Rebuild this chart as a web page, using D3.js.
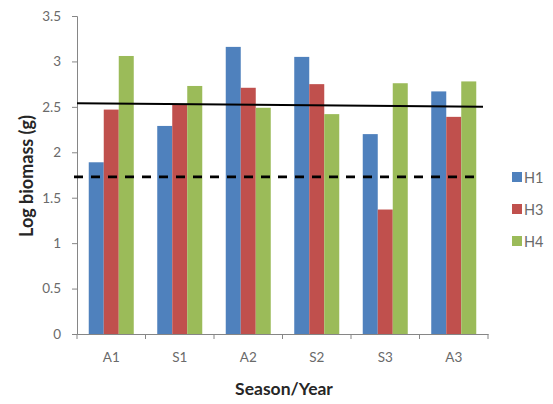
<!DOCTYPE html>
<html><head><meta charset="utf-8">
<script src="https://cdn.jsdelivr.net/npm/d3@7"></script>
<style>body{margin:0;background:#fff}svg{display:block}text{font-family:Lato,"Open Sans",sans-serif}</style>
</head><body><svg id="c" width="553" height="404"></svg>
<script>
const categories = ["A1","S1","A2","S2","S3","A3"];
const seriesNames = ["H1","H3","H4"];
const H1 = [1.89, 2.29, 3.16, 3.05, 2.20, 2.67];
const H3 = [2.47, 2.53, 2.71, 2.75, 1.37, 2.39];
const H4 = [3.06, 2.73, 2.49, 2.42, 2.76, 2.78];
const yTicks = [0, 0.5, 1, 1.5, 2, 2.5, 3, 3.5];
const solidRef = [2.54, 2.50];
const dashedRef = [1.73, 1.73];
const colors = ["#4F81BD","#C0504D","#9BBB59"];

const svg = d3.select("#c");
const mL = 77, mR = 488, mT = 16, mB = 334;
const x = d3.scaleBand().domain(categories).range([mL, mR]).paddingInner(0.343).paddingOuter(0.1715);
const xs = d3.scaleBand().domain(seriesNames).range([0, x.bandwidth()]);
const y = d3.scaleLinear().domain([0, 3.5]).range([mB, mT]);
const series = [H1, H3, H4];

// bars
series.forEach((vals, si) => {
  svg.append("g").selectAll("rect").data(vals).join("rect")
    .attr("x", (d, i) => x(categories[i]) + xs(seriesNames[si]))
    .attr("width", xs.bandwidth())
    .attr("y", d => y(d))
    .attr("height", d => y(0) - y(d))
    .attr("fill", colors[si]);
});

// y axis
const ya = svg.append("g").attr("transform", `translate(${mL},0)`)
  .call(d3.axisLeft(y).tickValues(yTicks).tickSize(5).tickPadding(11).tickFormat(d => String(d)));
ya.select(".domain").attr("stroke", "#868686");
ya.selectAll(".tick line").attr("stroke", "#868686");
ya.selectAll("text").attr("fill", "#6a6a6a").attr("font-size", 13.5);

// x axis
const xa = svg.append("g").attr("transform", `translate(0,${mB})`)
  .call(d3.axisBottom(x).tickSize(0).tickPadding(18));
xa.select(".domain").attr("stroke", "#868686");
xa.selectAll("text").attr("fill", "#6a6a6a").attr("font-size", 13.5);
xa.selectAll("line.bt").data(d3.range(categories.length + 1)).join("line").attr("class","bt")
  .attr("x1", i => mL + i * x.step())
  .attr("x2", i => mL + i * x.step())
  .attr("y1", 0).attr("y2", 5).attr("stroke", "#868686");

// reference lines
svg.append("line").attr("x1", mL).attr("x2", 483)
  .attr("y1", y(solidRef[0])).attr("y2", y(solidRef[1]))
  .attr("stroke", "#000").attr("stroke-width", 2);
svg.append("line").attr("x1", 74).attr("x2", 482)
  .attr("y1", y(dashedRef[0])).attr("y2", y(dashedRef[1]))
  .attr("stroke", "#000").attr("stroke-width", 2.8).attr("stroke-dasharray", "9,8");

// axis titles
svg.append("text").attr("transform", "translate(33,176) rotate(-90)")
  .attr("text-anchor", "middle").attr("font-size", 18).attr("font-weight", "bold")
  .attr("fill", "#262626").text("Log biomass (g)");
svg.append("text").attr("x", 284).attr("y", 395)
  .attr("text-anchor", "middle").attr("font-size", 17.5).attr("font-weight", "bold")
  .attr("fill", "#262626").text("Season/Year");

// legend
const lg = svg.append("g").selectAll("g").data(seriesNames).join("g")
  .attr("transform", (d, i) => `translate(512,${177 + i * 32})`);
lg.append("rect").attr("x", 0).attr("y", -5).attr("width", 10).attr("height", 10)
  .attr("fill", (d, i) => colors[i]);
lg.append("text").attr("x", 12).attr("y", 5.5).attr("font-size", 14.5)
  .attr("fill", "#6a6a6a").text(d => d);
</script></body></html>
